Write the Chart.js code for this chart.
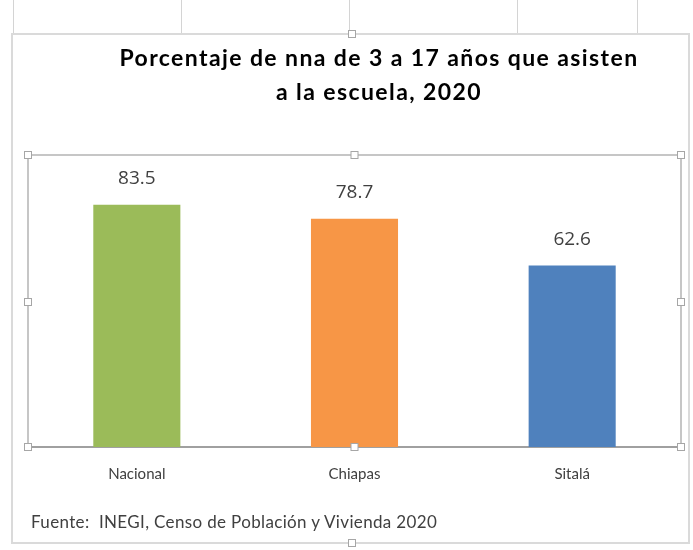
<!DOCTYPE html>
<html lang="es">
  <head>
    <meta charset="UTF-8" />
    <title>Porcentaje de nna de 3 a 17 años que asisten a la escuela, 2020</title>
    <script src="https://cdn.jsdelivr.net/npm/chart.js@4"></script>
    <style>
      body {
        margin: 0;
        background: #ffffff;
      }
      #sheet {
        position: relative;
        width: 693px;
        height: 550px;
        overflow: hidden;
        background: #ffffff;
      }
      .gridline {
        position: absolute;
        top: 0;
        width: 1px;
        height: 33px;
        background: #d4d4d4;
      }
      #title {
        position: absolute;
        left: 79px;
        width: 600px;
        top: 40px;
        text-align: center;
        font-family: Lato, "Liberation Sans", sans-serif;
        font-weight: bold;
        font-size: 23px;
        letter-spacing: 1.4px;
        line-height: 34px;
        color: #000000;
        white-space: nowrap;
      }
      #note {
        position: absolute;
        left: 31px;
        top: 511px;
        font-family: Lato, "Liberation Sans", sans-serif;
        font-size: 17px;
        letter-spacing: 0.35px;
        color: #404040;
        white-space: pre;
      }
      #wrap {
        position: absolute;
        left: 0;
        top: 0;
        width: 693px;
        height: 550px;
      }
    </style>
  </head>
  <body>
    <div id="sheet">
      <div class="gridline" style="left: 13px"></div>
      <div class="gridline" style="left: 181px"></div>
      <div class="gridline" style="left: 349px"></div>
      <div class="gridline" style="left: 517px"></div>
      <div class="gridline" style="left: 637px"></div>
      <div id="wrap"><canvas id="myChart"></canvas></div>
      <div id="title">Porcentaje de nna de 3 a 17 años que asisten<br />a la escuela, 2020</div>
      <div id="note">Fuente:  INEGI, Censo de Población y Vivienda 2020</div>
    </div>
    <script>
      const places = ["Nacional", "Chiapas", "Sitalá"];
      const percent = [83.5, 78.7, 62.6];
      const barColors = ["#9bbb59", "#f79646", "#4f81bd"];

      // selection frames Excel draws round the chart and plot area
      function handle(ctx, x, y) {
        ctx.fillStyle = "#ffffff";
        ctx.strokeStyle = "#a6a6a6";
        ctx.lineWidth = 1;
        ctx.fillRect(x - 3.5, y - 3.5, 7, 7);
        ctx.strokeRect(x - 3.5, y - 3.5, 7, 7);
      }

      const framePlugin = {
        id: "frames",
        beforeDraw(chart) {
          const ctx = chart.ctx;
          const a = chart.chartArea;
          ctx.save();
          ctx.strokeStyle = "#dadada";
          ctx.lineWidth = 2;
          ctx.strokeRect(12, 34, 677, 509);
          ctx.strokeStyle = "#c6c6c6";
          ctx.lineWidth = 2;
          ctx.strokeRect(a.left, a.top - 2, a.right - a.left, a.bottom - a.top + 2);
          ctx.restore();
        },
        afterDraw(chart) {
          const ctx = chart.ctx;
          const a = chart.chartArea;
          const midX = (a.left + a.right) / 2;
          const midY = (a.top + a.bottom) / 2;
          ctx.save();
          [[a.left, a.top - 2], [midX, a.top - 2], [a.right, a.top - 2],
           [a.left, midY], [a.right, midY],
           [a.left, a.bottom], [midX, a.bottom], [a.right, a.bottom],
           [352, 34], [352, 543]].forEach(p => handle(ctx, p[0], p[1]));
          ctx.restore();
        }
      };

      const labelPlugin = {
        id: "valueLabels",
        afterDatasetsDraw(chart) {
          const ctx = chart.ctx;
          const meta = chart.getDatasetMeta(0);
          ctx.save();
          ctx.font = "19px 'Open Sans', sans-serif";
          ctx.fillStyle = "#404040";
          ctx.textAlign = "center";
          ctx.textBaseline = "middle";
          meta.data.forEach((bar, i) => {
            ctx.fillText(percent[i].toFixed(1), bar.x, bar.y - 26);
          });
          ctx.restore();
        }
      };

      const ctx = document.getElementById("myChart").getContext("2d");
      const chart = new Chart(ctx, {
        type: "bar",
        data: {
          labels: places,
          datasets: [
            {
              data: percent,
              backgroundColor: barColors,
              borderWidth: 0,
              barPercentage: 0.4,
              categoryPercentage: 1
            }
          ]
        },
        options: {
          responsive: true,
          maintainAspectRatio: false,
          animation: false,
          layout: {
            padding: { left: 28, right: 12, top: 157, bottom: 0 }
          },
          plugins: {
            legend: { display: false },
            tooltip: { enabled: false }
          },
          scales: {
            x: {
              grid: { display: false },
              border: { color: "#a0a0a0", width: 2 },
              ticks: {
                color: "#404040",
                padding: 10,
                font: { family: "Lato, sans-serif", size: 15 }
              },
              afterFit(scale) {
                scale.height = 103;
              }
            },
            y: {
              display: false,
              min: 0,
              max: 100
            }
          }
        },
        plugins: [framePlugin, labelPlugin]
      });
    </script>
  </body>
</html>
